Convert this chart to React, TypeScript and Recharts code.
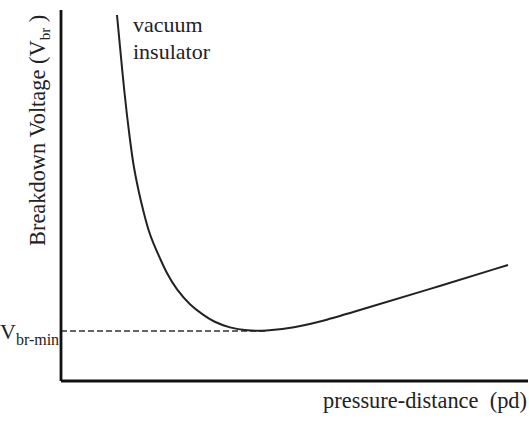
import { LineChart, Line, XAxis, YAxis, ReferenceLine, Customized } from 'recharts';

// Paschen curve, arbitrary units (0-100 on both axes)
const pd = [11.99, 13.7, 14.78, 15.48, 16.55, 17.67, 18.69, 19.76, 21.2, 22.63, 24.78, 27.62, 30.47, 32.55, 36.19, 39.83, 43.68, 49.68, 56.96, 64.03, 78.37, 95.72];
const vbr = [98.65, 75.74, 64.96, 58.22, 51.48, 45.55, 40.7, 37.12, 33.07, 29.03, 24.53, 20.49, 17.79, 16.04, 14.29, 13.56, 13.48, 14.29, 16.44, 19.14, 24.53, 31.27];
const vbrMin = 13.48;
const pdMin = 43.68;

const data = pd.map((x, i) => ({ pd: x, vbr: vbr[i] }));

const SERIF = 'Liberation Serif, DejaVu Serif, Times New Roman, serif';

function Texts() {
    return (
        <g fontFamily={SERIF} fill="#222">
            <text x={133} y={32} fontSize={22}>vacuum</text>
            <text x={133} y={59} fontSize={22}>insulator</text>
            <text x={527} y={408} fontSize={22.4} textAnchor="end" style={{ whiteSpace: 'pre' }}>pressure-distance  (pd)</text>
            <text x={0} y={339} fontSize={22}>
                V<tspan fontSize={16} dy={6}>br-min</tspan>
            </text>
            <text transform="translate(45,246) rotate(-90)" fontSize={22.4} style={{ whiteSpace: 'pre' }}>
                Breakdown Voltage (V<tspan fontSize={15} dy={5}>br</tspan><tspan dy={-5}> )</tspan>
            </text>
        </g>
    );
}

export default function App() {
    return (
        <div style={{ position: 'absolute', left: 0, top: 0, background: '#fff' }}>
            <LineChart width={529} height={422} data={data} margin={{ top: 10, right: 1, bottom: 40, left: 60 }}>
                <XAxis
                    dataKey="pd"
                    type="number"
                    domain={[0, 100]}
                    height={1}
                    tick={false}
                    tickLine={false}
                    axisLine={{ stroke: '#111', strokeWidth: 2.8 }}
                    allowDataOverflow
                />
                <YAxis
                    type="number"
                    domain={[0, 100]}
                    width={1}
                    tick={false}
                    tickLine={false}
                    axisLine={{ stroke: '#111', strokeWidth: 2.8 }}
                    allowDataOverflow
                />
                <ReferenceLine
                    segment={[{ x: 0, y: vbrMin }, { x: pdMin, y: vbrMin }]}
                    stroke="#333"
                    strokeWidth={1.5}
                    strokeDasharray="6 3"
                />
                <Line
                    type="basis"
                    dataKey="vbr"
                    stroke="#222"
                    strokeWidth={2}
                    dot={false}
                    isAnimationActive={false}
                />
                <Customized component={Texts} />
            </LineChart>
        </div>
    );
}
